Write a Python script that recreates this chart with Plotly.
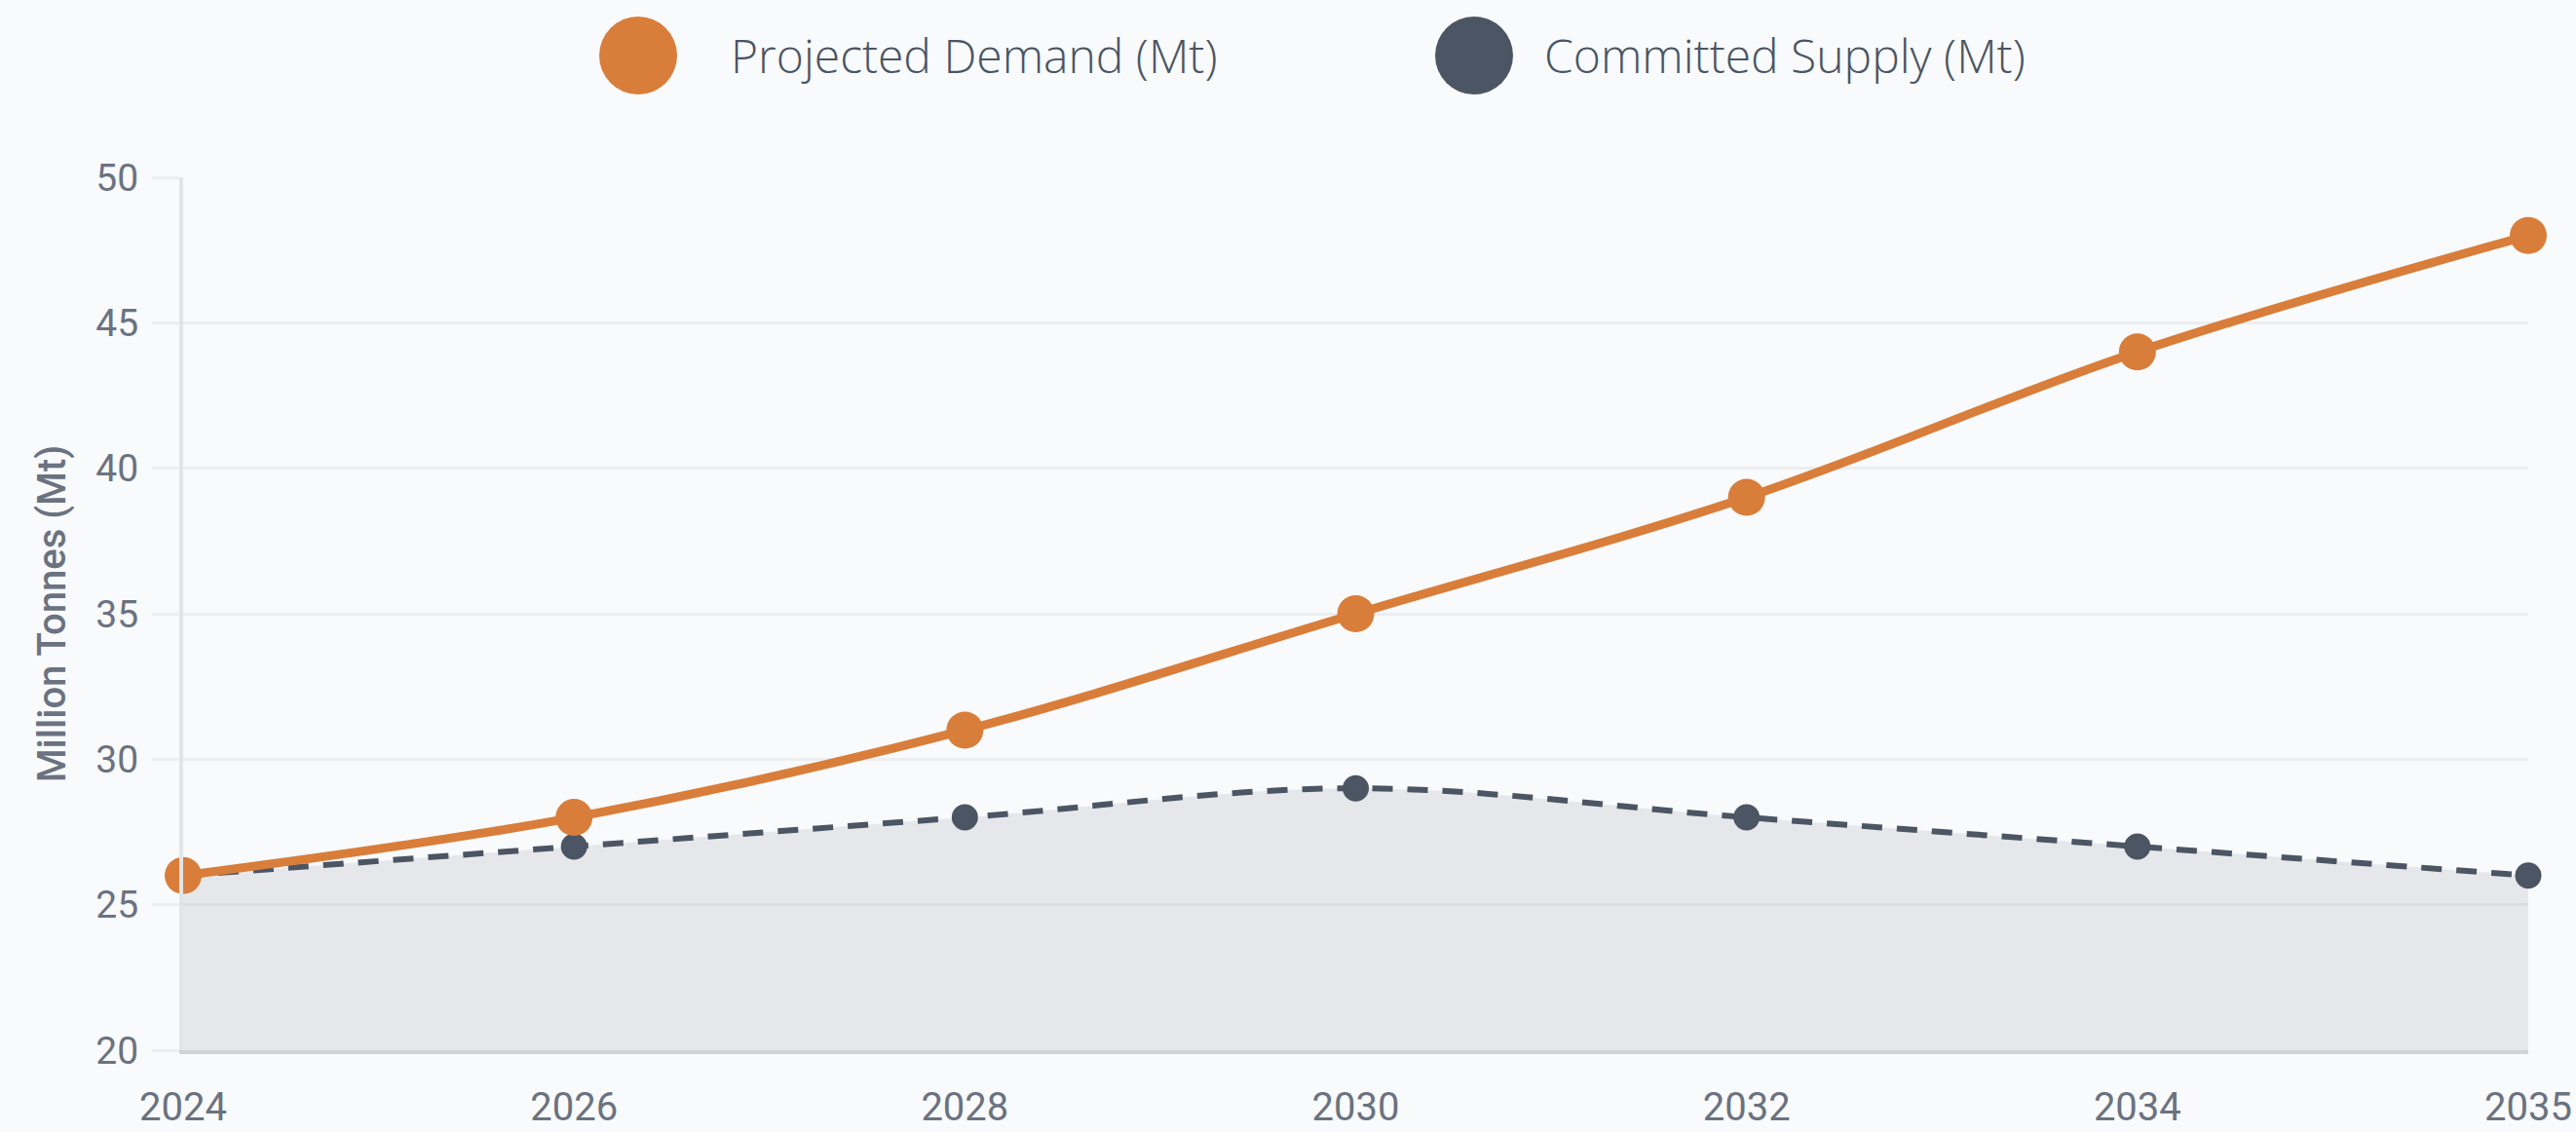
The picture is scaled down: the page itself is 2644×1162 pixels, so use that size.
import plotly.graph_objects as go

# ---- data ----
years = ["2024", "2026", "2028", "2030", "2032", "2034", "2035"]
demand = [26, 28, 31, 35, 39, 44, 48]
supply = [26, 27, 28, 29, 28, 27, 26]
y_ticks = [20, 25, 30, 35, 40, 45, 50]
series_names = ["Projected Demand (Mt)", "Committed Supply (Mt)"]

W, H = 2644, 1162
L, R, T, B = 188, 49, 182, 84
plot_w = W - L - R
plot_h = H - T - B

ORANGE = "#d97d3a"
SLATE = "#4b5563"
BG = "#f8fafc"
TICK_COLOR = "#6b7280"

fig = go.Figure()

fig.add_trace(go.Scatter(
    x=years, y=supply, name=series_names[1], mode="lines+markers",
    line=dict(color=SLATE, width=6, dash="21px,15px", shape="spline", smoothing=1.0),
    marker=dict(color=SLATE, size=27),
    fill="tozeroy", fillcolor="rgba(130,130,135,0.15)",
    cliponaxis=False, showlegend=False,
))
fig.add_trace(go.Scatter(
    x=years, y=demand, name=series_names[0], mode="lines+markers",
    line=dict(color=ORANGE, width=9, shape="spline", smoothing=1.0),
    marker=dict(color=ORANGE, size=38),
    cliponaxis=False, showlegend=False,
))

def px_x(px):
    return (px - L) / plot_w

def px_y(py):
    return (H - B - py) / plot_h

# custom legend (large circles + text)
legend_items = [
    (series_names[0], ORANGE, 655, 748),
    (series_names[1], SLATE, 1513, 1583),
]
shapes = []
annotations = []
for name, col, cx, tx in legend_items:
    shapes.append(dict(
        type="circle", xref="paper", yref="paper",
        xsizemode="pixel", ysizemode="pixel",
        xanchor=px_x(cx), yanchor=px_y(57),
        x0=-40, x1=40, y0=-40, y1=40,
        fillcolor=col, line=dict(width=0),
    ))
    annotations.append(dict(
        text=name, xref="paper", yref="paper",
        x=px_x(tx), y=px_y(57), xanchor="left", yanchor="middle",
        showarrow=False,
        font=dict(family="Open Sans", size=48, color=SLATE, weight=300),
    ))

fig.update_layout(
    width=W, height=H,
    margin=dict(l=L, r=R, t=T, b=B, pad=0, autoexpand=False),
    paper_bgcolor=BG, plot_bgcolor=BG,
    shapes=shapes, annotations=annotations,
    showlegend=False,
    font=dict(family="Roboto, Arial, sans-serif", color=TICK_COLOR),
    xaxis=dict(
        type="category", range=[0, 6], automargin=False,
        showgrid=False, zeroline=False,
        showline=True, linecolor="#d0d2d6", linewidth=4,
        ticks="", ticklabelstandoff=20,
        tickfont=dict(size=40, color=TICK_COLOR, family="Roboto, Arial, sans-serif"),
    ),
    yaxis=dict(
        range=[20, 50], tickvals=y_ticks, automargin=False,
        showgrid=True, gridcolor="#eceef1", gridwidth=3,
        zeroline=False,
        showline=True, linecolor="#e2e4e8", linewidth=4,
        ticks="outside", ticklen=28, tickwidth=3, tickcolor="#eceef1",
        ticklabelstandoff=6,
        tickfont=dict(size=39, color=TICK_COLOR, family="Roboto, Arial, sans-serif"),
        title=dict(text="Million Tonnes (Mt)", standoff=19,
                   font=dict(size=40, color=TICK_COLOR, family="Roboto, Arial, sans-serif",
                             weight=500)),
    ),
)

fig.write_html(
    "out.html",
    config={"displayModeBar": False},
    post_script="document.body.style.margin='0';document.body.style.background='%s';"
                "document.documentElement.style.overflow='hidden';" % BG,
)
